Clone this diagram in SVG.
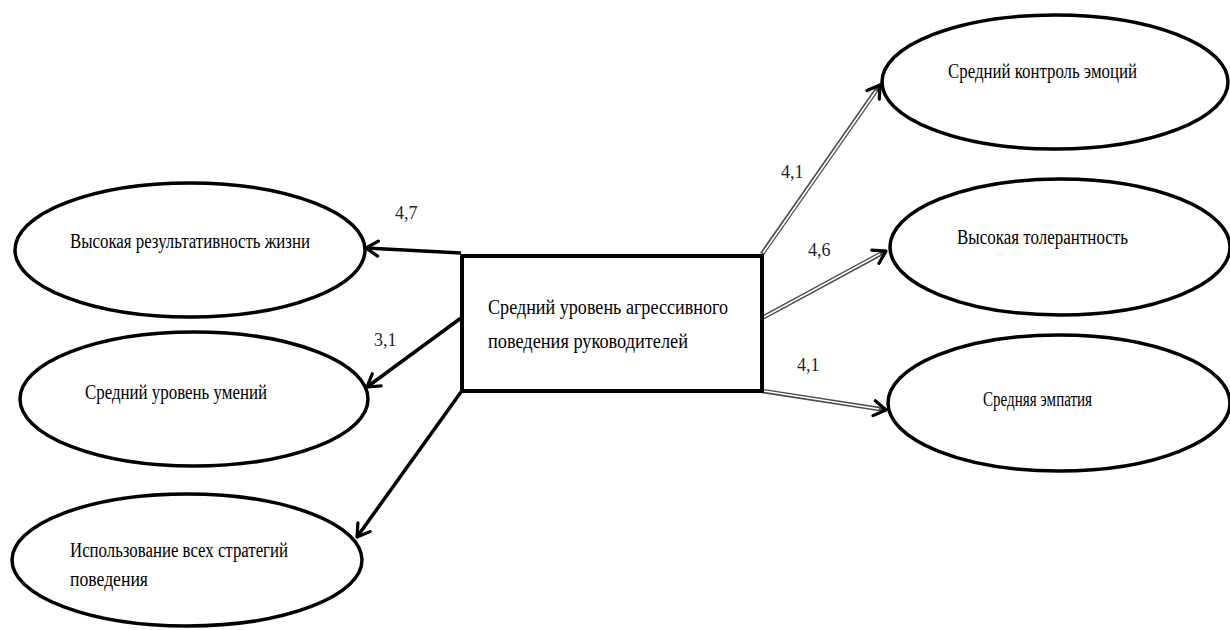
<svg xmlns="http://www.w3.org/2000/svg" width="1230" height="630" viewBox="0 0 1230 630">
  <style>
    .node { fill: #ffffff; stroke: #000000; stroke-width: 3.5; }
    .box { fill: #ffffff; stroke: #000000; stroke-width: 4; }
    .t { font-family: "Liberation Serif", "Times New Roman", serif; font-size: 20px; fill: #000000; }
    .num { font-family: "Liberation Serif", "Times New Roman", serif; font-size: 18px; fill: #1f1f2a; }
    .solid { stroke: #000000; stroke-width: 3.5; fill: none; }
    .dbl-outer { stroke: #4a4a4a; stroke-width: 4.5; fill: none; }
    .dbl-inner { stroke: #ffffff; stroke-width: 1.6; fill: none; }
  </style>
  <defs>
    <marker id="head" markerUnits="userSpaceOnUse" orient="auto" refX="0" refY="0" markerWidth="30" markerHeight="30" viewBox="-15 -15 30 30" overflow="visible">
      <path d="M-12,-7.5 L0,0 L-12,7.5" fill="none" stroke="#000000" stroke-width="3.2" stroke-linecap="round" stroke-linejoin="round"/>
    </marker>
  </defs>

  <rect width="1230" height="630" fill="#ffffff"/>

  <!-- connectors -->
  <g id="connectors">
    <line class="solid" x1="461" y1="253" x2="366" y2="248" marker-end="url(#head)"/>
    <line class="solid" x1="461" y1="318" x2="367" y2="387" marker-end="url(#head)"/>
    <line class="solid" x1="461" y1="392" x2="357" y2="537" marker-end="url(#head)"/>

    <line class="dbl-outer" x1="762" y1="254" x2="880" y2="85" marker-end="url(#head)"/>
    <line class="dbl-inner" x1="763" y1="253" x2="876" y2="91"/>
    <line class="dbl-outer" x1="762" y1="318" x2="886" y2="251" marker-end="url(#head)"/>
    <line class="dbl-inner" x1="764" y1="317" x2="880" y2="254"/>
    <line class="dbl-outer" x1="762" y1="391" x2="886" y2="410" marker-end="url(#head)"/>
    <line class="dbl-inner" x1="764" y1="391" x2="879" y2="409"/>

    <text class="num" x="395" y="219">4,7</text>
    <text class="num" x="374" y="346">3,1</text>
    <text class="num" x="781" y="178">4,1</text>
    <text class="num" x="808" y="256">4,6</text>
    <text class="num" x="797" y="371">4,1</text>
  </g>

  <!-- central node -->
  <g id="center">
    <rect class="box" x="462" y="256" width="300" height="135"/>
    <text class="t" x="488" y="314" textLength="240" lengthAdjust="spacingAndGlyphs">Средний уровень агрессивного</text>
    <text class="t" x="488" y="348" textLength="200" lengthAdjust="spacingAndGlyphs">поведения руководителей</text>
  </g>

  <!-- left nodes -->
  <g id="result">
    <ellipse class="node" cx="190" cy="250" rx="175" ry="67"/>
    <text class="t" x="70" y="248" textLength="240" lengthAdjust="spacingAndGlyphs">Высокая результативность жизни</text>
  </g>
  <g id="skills">
    <ellipse class="node" cx="194" cy="399" rx="174" ry="67"/>
    <text class="t" x="85" y="399" textLength="182" lengthAdjust="spacingAndGlyphs">Средний уровень умений</text>
  </g>
  <g id="strategies">
    <ellipse class="node" cx="187" cy="560" rx="175" ry="66"/>
    <text class="t" x="70" y="557" textLength="218" lengthAdjust="spacingAndGlyphs">Использование всех стратегий</text>
    <text class="t" x="70" y="586" textLength="78" lengthAdjust="spacingAndGlyphs">поведения</text>
  </g>

  <!-- right nodes -->
  <g id="emotion-control">
    <ellipse class="node" cx="1055" cy="82" rx="173" ry="67"/>
    <text class="t" x="948" y="78" textLength="189" lengthAdjust="spacingAndGlyphs">Средний контроль эмоций</text>
  </g>
  <g id="tolerance">
    <ellipse class="node" cx="1060" cy="247" rx="170" ry="68"/>
    <text class="t" x="957" y="244" textLength="171" lengthAdjust="spacingAndGlyphs">Высокая толерантность</text>
  </g>
  <g id="empathy">
    <ellipse class="node" cx="1059" cy="403" rx="171" ry="68"/>
    <text class="t" x="983" y="406" textLength="109" lengthAdjust="spacingAndGlyphs">Средняя эмпатия</text>
  </g>
</svg>
